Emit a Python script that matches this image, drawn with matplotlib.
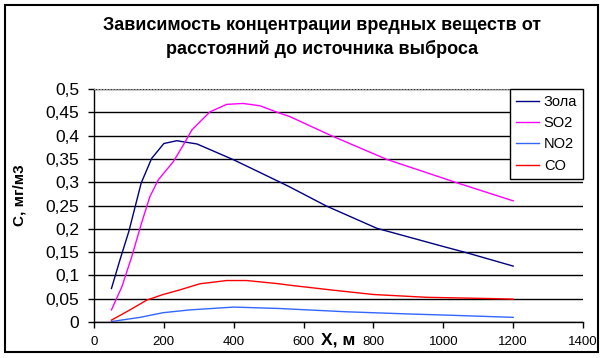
import matplotlib.pyplot as plt
from matplotlib.patches import Rectangle
from matplotlib.ticker import FuncFormatter

plt.rcParams['font.family'] = ['Liberation Sans', 'DejaVu Sans']

# distances, m
x_zola = [50, 75, 100, 135, 165, 200, 237, 295, 400, 530, 560, 665, 810, 1000, 1065, 1200]
zola = [0.072, 0.135, 0.195, 0.298, 0.351, 0.383, 0.389, 0.382, 0.348, 0.301, 0.290, 0.249, 0.201, 0.162, 0.149, 0.120]

x_so2 = [50, 80, 108, 136, 160, 184, 227, 256, 280, 332, 380, 427, 475, 532, 560, 676, 838, 1038, 1200]
so2 = [0.026, 0.076, 0.140, 0.212, 0.269, 0.305, 0.344, 0.380, 0.412, 0.451, 0.467, 0.469, 0.464, 0.448, 0.441, 0.401, 0.349, 0.299, 0.260]

x_no2 = [50, 132, 198, 275, 400, 530, 720, 910, 1000, 1200]
no2 = [0.001, 0.010, 0.020, 0.026, 0.032, 0.029, 0.022, 0.017, 0.015, 0.010]

x_co = [50, 103, 151, 198, 246, 303, 380, 437, 530, 560, 676, 800, 952, 1153, 1200]
co = [0.004, 0.026, 0.047, 0.059, 0.069, 0.082, 0.089, 0.089, 0.082, 0.079, 0.069, 0.059, 0.053, 0.050, 0.049]

series = [
    ("Зола", x_zola, zola, "#000080"),
    ("SO2", x_so2, so2, "#FF00FF"),
    ("NO2", x_no2, no2, "#3366FF"),
    ("CO", x_co, co, "#FF0000"),
]

fig = plt.figure(figsize=(6.05, 3.58), dpi=100)
ax = fig.add_axes([94 / 605, 1 - 322 / 358, 489 / 605, 233 / 358])

for name, xs, ys, c in series:
    ax.plot(xs, ys, color=c, lw=1, label=name)

ax.set_xlim(0, 1400)
ax.set_ylim(0, 0.5)
ax.set_xticks(range(0, 1401, 200))
ax.set_yticks([i * 0.05 for i in range(11)])
ax.yaxis.set_major_formatter(FuncFormatter(lambda v, p: f"{v:.2f}".rstrip("0").rstrip(".").replace(".", ",")))
ax.tick_params(axis="x", labelsize=9.5, direction="out", length=4, width=1, pad=6)
ax.tick_params(axis="y", labelsize=12.5, direction="out", length=4.5, width=1, pad=6)
ax.grid(axis="y", color="black", lw=1)
ax.set_axisbelow(True)

ax.spines["right"].set_visible(False)
ax.spines["top"].set_color("#999999")
ax.spines["top"].set_linestyle(":")
ax.spines["left"].set_linewidth(1)
ax.spines["bottom"].set_linewidth(1)

leg = ax.legend(loc="upper right", bbox_to_anchor=(1.0, 1.0), fontsize=10.5,
                frameon=True, fancybox=False, edgecolor="black", framealpha=1,
                borderaxespad=0, handlelength=1.55, handletextpad=0.35,
                labelspacing=0.5, borderpad=0.4)
leg.get_frame().set_linewidth(1)

fig.text(322 / 605, 1 - 25 / 358, "Зависимость концентрации вредных веществ от",
         ha="center", va="center", fontsize=13, fontweight="bold")
fig.text(322 / 605, 1 - 49 / 358, "расстояний до источника выброса",
         ha="center", va="center", fontsize=13, fontweight="bold")
fig.text(20 / 605, 1 - 195 / 358, "C, мг/м3", rotation=90,
         ha="center", va="center", fontsize=11, fontweight="bold")
fig.text(338 / 605, 1 - 340 / 358, "X, м",
         ha="center", va="center", fontsize=12.5, fontweight="bold")

fig.patches.append(Rectangle((5 / 605, 1 - 352 / 358), 593 / 605, 347 / 358,
                             transform=fig.transFigure, fill=False,
                             edgecolor="black", lw=1.5))

fig.savefig("out.png", dpi=100)
